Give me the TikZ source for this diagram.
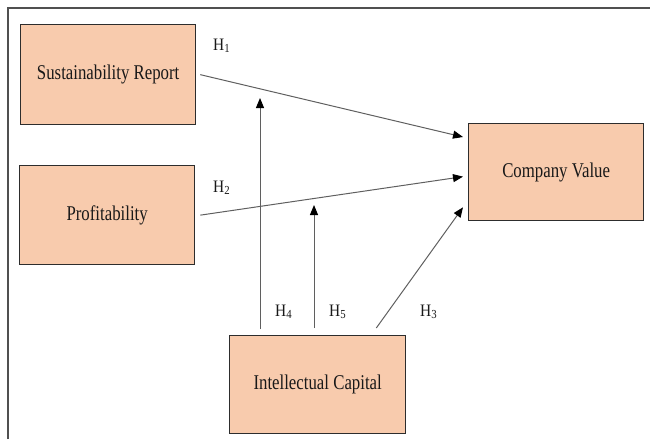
\documentclass[tikz,border=0pt]{standalone}
\usepackage{fontspec}
\setmainfont{Liberation Serif}
\usetikzlibrary{arrows.meta,calc}
\definecolor{boxfill}{RGB}{248,203,173}
\definecolor{boxline}{RGB}{45,45,45}
\definecolor{arrline}{RGB}{95,95,95}
\definecolor{framecol}{RGB}{80,80,80}
\definecolor{txtcol}{RGB}{25,25,25}
\newcommand{\boxtxt}[1]{\scalebox{0.8}[1]{\fontsize{21}{25}\selectfont #1}}
\newcommand{\htxt}[1]{\scalebox{0.88}[1]{\fontsize{17.5}{20}\selectfont H\textsubscript{#1}}}
\begin{document}
\begin{tikzpicture}[x=1pt,y=-1pt,
  varbox/.style={draw=boxline, line width=1.3pt, fill=boxfill, text=txtcol, minimum width=175pt, minimum height=100pt, inner sep=0pt, anchor=north west},
  arr/.style={draw=arrline, line width=1pt, -{Triangle[length=10pt,width=8pt,color=black]}},
  hlbl/.style={anchor=base west, inner sep=0pt, text=txtcol}]
\useasboundingbox (0,0) rectangle (650,439);
\draw[line width=1.5pt, draw=framecol] (8,439) -- (8,8) -- (650,8);

\node[varbox] (sr) at (20,24) {\boxtxt{Sustainability Report}};
\node[varbox, minimum height=99pt] (p) at (19,165) {\boxtxt{Profitability}};
\node[varbox, minimum height=97pt] (cv) at (468,123) {\boxtxt{Company Value}};
\node[varbox, minimum width=176pt, minimum height=98pt] (ic) at (229,335) {\boxtxt{Intellectual Capital}};

\coordinate (h4end) at (260,98);
\coordinate (h5end) at (314,205);

\draw[arr] ($(sr.east)+(4,0)$) -- ($(cv.north west)+(-5,14)$);
\draw[arr] ($(p.east)+(5,0)$) -- ($(cv.west)+(-5,4.5)$);
\draw[arr] ($(ic.north east)+(-30,-7)$) -- ($(cv.south west)+(-5,-14)$);
\draw[arr] ($(ic.north west)+(31,-6)$) -- (h4end);
\draw[arr] ($(ic.north west)+(85,-7)$) -- (h5end);

\node[hlbl] (l1) at (213,50) {\htxt{1}};
\node[hlbl] (l2) at (213,192) {\htxt{2}};
\node[hlbl] (l4) at (275,316) {\htxt{4}};
\node[hlbl] (l5) at (329,316) {\htxt{5}};
\node[hlbl] (l3) at (420,316) {\htxt{3}};
\end{tikzpicture}
\end{document}
